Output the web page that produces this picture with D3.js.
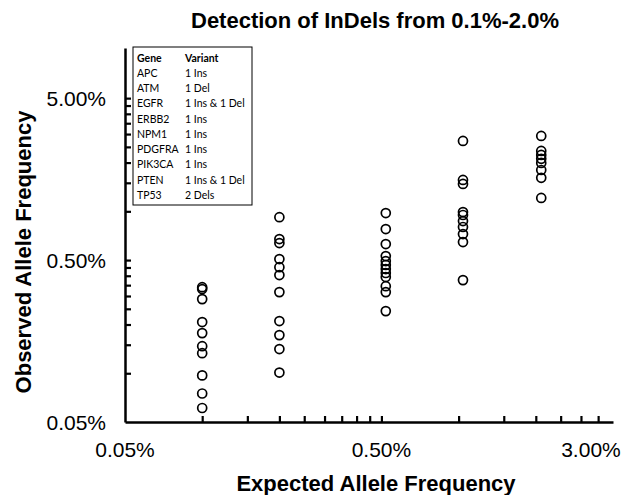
<!DOCTYPE html>
<html>
<head>
<script src="https://d3js.org/d3.v7.min.js"></script>
<style>
  body { margin: 0; background: #fff; }
  text { font-family: "Liberation Sans", Arial, sans-serif; fill: #000; }
  .leg { font-family: Lato, "Liberation Sans", sans-serif; }
</style>
</head>
<body>
<div id="chart"></div>
<script>
// expected allele frequency (%) for each column of points
const expected = [0.1, 0.2, 0.52, 1.04, 2.1];
// observed allele frequencies (%), one list per column
const observed = [
  [0.340, 0.331, 0.287, 0.207, 0.177, 0.147, 0.133, 0.097, 0.075, 0.061],
  [0.92, 0.674, 0.637, 0.507, 0.452, 0.404, 0.317, 0.210, 0.172, 0.141, 0.101],
  [0.976, 0.777, 0.628, 0.529, 0.493, 0.466, 0.440, 0.416, 0.393, 0.345, 0.317, 0.242],
  [2.72, 1.563, 1.476, 0.990, 0.949, 0.871, 0.800, 0.724, 0.646, 0.376],
  [2.92, 2.36, 2.23, 2.11, 1.99, 1.80, 1.61, 1.21]
];
const xTickValues = [0.05, 0.5, 3];
const xTickLabels = ["0.05%", "0.50%", "3.00%"];
const yTickValues = [0.05, 0.5, 5];
const yTickLabels = ["0.05%", "0.50%", "5.00%"];
const xMinor = [0.1, 0.15, 0.2, 0.25, 0.3, 0.35, 0.4, 0.45, 0.5, 1, 1.5, 2, 2.5, 3, 3.5];
const yMinor = [0.1, 0.15, 0.2, 0.25, 0.3, 0.35, 0.4, 0.45, 0.5, 1, 1.5, 2, 2.5, 3, 3.5, 4, 4.5, 5];
const genes = ["APC", "ATM", "EGFR", "ERBB2", "NPM1", "PDGFRA", "PIK3CA", "PTEN", "TP53"];
const variants = ["1 Ins", "1 Del", "1 Ins & 1 Del", "1 Ins", "1 Ins", "1 Ins", "1 Ins", "1 Ins & 1 Del", "2 Dels"];

const width = 630, height = 495;
const margin = { top: 48, right: 17, bottom: 73, left: 125 };

const svg = d3.select("#chart").append("svg")
  .attr("width", width)
  .attr("height", height);

const x = d3.scaleLog().domain([0.05, 4]).range([margin.left, width - margin.right]);
const y = d3.scaleLog().domain([0.05, 10.2]).range([height - margin.bottom, margin.top]);

// minor ticks pointing inward
svg.append("g")
  .attr("transform", `translate(0,${height - margin.bottom})`)
  .call(d3.axisBottom(x).tickValues(xMinor).tickSize(-6).tickSizeOuter(0).tickFormat(""))
  .call(g => g.selectAll("line").attr("stroke", "#000").attr("stroke-width", 2.2))
  .call(g => g.select(".domain").attr("stroke", "#000").attr("stroke-width", 2.5));

svg.append("g")
  .attr("transform", `translate(${margin.left},0)`)
  .call(d3.axisLeft(y).tickValues(yMinor).tickSize(-6).tickSizeOuter(0).tickFormat(""))
  .call(g => g.selectAll("line").attr("stroke", "#000").attr("stroke-width", 2.2))
  .call(g => g.select(".domain").attr("stroke", "#000").attr("stroke-width", 2.5));

// tick labels
svg.selectAll(".xlab")
  .data(xTickValues)
  .enter().append("text")
  .attr("x", (d, i) => x(d) + (i === 2 ? 10 : 0))
  .attr("y", 457)
  .attr("text-anchor", "middle")
  .style("font-size", "21px")
  .text((d, i) => xTickLabels[i]);

svg.selectAll(".ylab")
  .data(yTickValues)
  .enter().append("text")
  .attr("x", 106)
  .attr("y", d => y(d))
  .attr("dy", "0.36em")
  .attr("text-anchor", "end")
  .style("font-size", "21px")
  .text((d, i) => yTickLabels[i]);

// points
const points = [];
expected.forEach((e, i) => observed[i].forEach(o => points.push({ e, o })));
svg.append("g").selectAll("circle")
  .data(points)
  .enter().append("circle")
  .attr("cx", d => x(d.e))
  .attr("cy", d => y(d.o))
  .attr("r", 4.5)
  .attr("fill", "none")
  .attr("stroke", "#000")
  .attr("stroke-width", 1.7);

// legend table
const legend = svg.append("g").attr("transform", "translate(133,47)");
legend.append("rect")
  .attr("width", 119)
  .attr("height", 158)
  .attr("fill", "#fff")
  .attr("stroke", "#000")
  .attr("stroke-width", 1);
const rowY = i => 11 + i * 15.25;
const fs = "10.5px";
const colX = [4, 52];
legend.append("text").attr("class", "leg").attr("x", colX[0]).attr("y", rowY(0)).attr("dy", "0.35em")
  .style("font-size", fs).style("font-weight", "bold").text("Gene");
legend.append("text").attr("class", "leg").attr("x", colX[1]).attr("y", rowY(0)).attr("dy", "0.35em")
  .style("font-size", fs).style("font-weight", "bold").text("Variant");
legend.selectAll(".gene")
  .data(genes)
  .enter().append("text")
  .attr("class", "leg")
  .attr("x", colX[0])
  .attr("y", (d, i) => rowY(i + 1))
  .attr("dy", "0.35em")
  .style("font-size", fs)
  .text(d => d);
legend.selectAll(".variant")
  .data(variants)
  .enter().append("text")
  .attr("class", "leg")
  .attr("x", colX[1])
  .attr("y", (d, i) => rowY(i + 1))
  .attr("dy", "0.35em")
  .style("font-size", fs)
  .text(d => d);

// titles
svg.append("text")
  .attr("x", 375)
  .attr("y", 28)
  .attr("text-anchor", "middle")
  .style("font-size", "22px")
  .style("font-weight", "bold")
  .text("Detection of InDels from 0.1%-2.0%");

svg.append("text")
  .attr("x", 376)
  .attr("y", 491)
  .attr("text-anchor", "middle")
  .style("font-size", "22px")
  .style("font-weight", "bold")
  .text("Expected Allele Frequency");

svg.append("text")
  .attr("transform", "rotate(-90)")
  .attr("x", -252)
  .attr("y", 31)
  .attr("text-anchor", "middle")
  .style("font-size", "22px")
  .style("font-weight", "bold")
  .text("Observed Allele Frequency");
</script>
</body>
</html>
